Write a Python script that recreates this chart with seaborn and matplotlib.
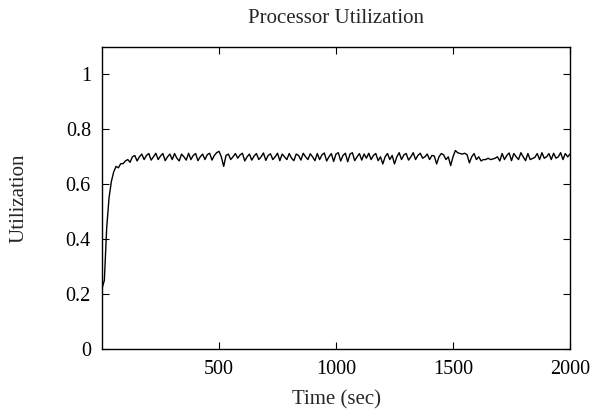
import numpy as np
import pandas as pd
import matplotlib
matplotlib.use("Agg")
import matplotlib.pyplot as plt
import seaborn as sns

time_sec = list(range(0, 2001, 10))
utilization = [
    0.22, 0.25, 0.44, 0.55, 0.61, 0.645, 0.665, 0.66, 0.675, 0.675,
    0.685, 0.69, 0.68, 0.70, 0.705, 0.685, 0.70, 0.71, 0.69, 0.705,
    0.712, 0.688, 0.70, 0.713, 0.69, 0.703, 0.712, 0.686, 0.70, 0.71,
    0.69, 0.712, 0.695, 0.685, 0.71, 0.70, 0.688, 0.713, 0.69, 0.705,
    0.712, 0.686, 0.70, 0.71, 0.69, 0.708, 0.713, 0.688, 0.705, 0.715,
    0.72, 0.70, 0.665, 0.705, 0.71, 0.69, 0.70, 0.712, 0.695, 0.707,
    0.713, 0.685, 0.70, 0.71, 0.688, 0.703, 0.712, 0.69, 0.70, 0.714,
    0.687, 0.705, 0.711, 0.69, 0.70, 0.713, 0.686, 0.71, 0.70, 0.69,
    0.712, 0.695, 0.686, 0.71, 0.705, 0.688, 0.713, 0.70, 0.69, 0.711,
    0.70, 0.686, 0.712, 0.69, 0.707, 0.714, 0.685, 0.70, 0.712, 0.683,
    0.71, 0.715, 0.685, 0.705, 0.713, 0.682, 0.71, 0.715, 0.686, 0.70,
    0.712, 0.688, 0.71, 0.695, 0.713, 0.69, 0.705, 0.712, 0.686, 0.70,
    0.674, 0.70, 0.712, 0.69, 0.705, 0.674, 0.70, 0.715, 0.69, 0.707,
    0.712, 0.688, 0.70, 0.715, 0.69, 0.705, 0.713, 0.695, 0.70, 0.71,
    0.69, 0.705, 0.703, 0.674, 0.70, 0.712, 0.707, 0.69, 0.70, 0.668,
    0.70, 0.723, 0.715, 0.712, 0.71, 0.713, 0.708, 0.678, 0.70, 0.712,
    0.69, 0.70, 0.685, 0.69, 0.69, 0.695, 0.69, 0.692, 0.695, 0.70,
    0.685, 0.712, 0.69, 0.705, 0.714, 0.686, 0.712, 0.70, 0.69, 0.715,
    0.70, 0.686, 0.712, 0.69, 0.694, 0.698, 0.712, 0.69, 0.715, 0.695,
    0.70, 0.712, 0.69, 0.713, 0.695, 0.70, 0.715, 0.69, 0.712, 0.70,
    0.71,
]
x_ticks = [500, 1000, 1500, 2000]
y_ticks = [0, 0.2, 0.4, 0.6, 0.8, 1.0]
y_tick_labels = ["0", "0.2", "0.4", "0.6", "0.8", "1"]

sns.set_style("ticks")
plt.rcParams["font.family"] = ["Liberation Serif", "DejaVu Serif"]

df = pd.DataFrame({"Time": time_sec, "Utilization": utilization})

fig = plt.figure(figsize=(5.9, 4.16), dpi=100)
ax = fig.add_axes([102 / 590, 1 - 349 / 416, (570 - 102) / 590, (349 - 47) / 416])
sns.lineplot(data=df, x="Time", y="Utilization", ax=ax, color="black", linewidth=1.0)

ax.set_xlim(0, 2000)
ax.set_ylim(0, 1.1)
ax.set_xticks(x_ticks)
ax.set_xticklabels([str(t) for t in x_ticks])
ax.set_yticks(y_ticks)
ax.set_yticklabels(y_tick_labels)
ax.tick_params(direction="in", length=5, width=0.8, labelsize=14.5,
               top=True, right=True, pad=8, colors="black")
for s in ax.spines.values():
    s.set_visible(True)
    s.set_linewidth(1.0)
    s.set_color("black")

ax.set_title("Processor Utilization", fontsize=15, pad=17)
ax.set_xlabel("Time (sec)", fontsize=15, labelpad=8)
ax.set_ylabel("Utilization", fontsize=15, labelpad=27)

fig.savefig("out.png", dpi=100)
